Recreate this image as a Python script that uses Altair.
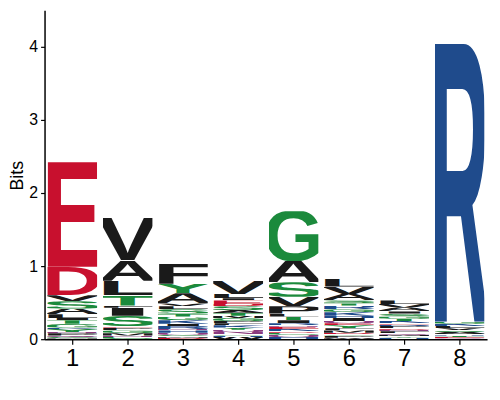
import base64
import pandas as pd
import altair as alt

# letter stacks per position, listed top -> bottom as (letter, height in bits)
pos_1 = [("E", 1.43), ("D", 0.39), ("V", 0.08), ("S", 0.10), ("A", 0.08), ("L", 0.05),
         ("I", 0.03), ("T", 0.05), ("G", 0.05), ("K", 0.02), ("Y", 0.04), ("N", 0.02),
         ("P", 0.03), ("Q", 0.02), ("C", 0.02), ("M", 0.01)]
pos_2 = [("V", 0.58), ("A", 0.28), ("L", 0.20), ("T", 0.14), ("F", 0.03), ("I", 0.11),
         ("S", 0.14), ("E", 0.02), ("P", 0.04), ("G", 0.04), ("M", 0.03), ("N", 0.02),
         ("C", 0.03)]
pos_3 = [("F", 0.27), ("Y", 0.13), ("A", 0.14), ("V", 0.04), ("L", 0.04), ("S", 0.06),
         ("T", 0.04), ("G", 0.05), ("K", 0.05), ("I", 0.03), ("R", 0.04), ("N", 0.02),
         ("H", 0.03), ("Q", 0.03), ("C", 0.02), ("M", 0.02), ("D", 0.02)]
pos_4 = [("V", 0.18), ("L", 0.06), ("I", 0.03), ("E", 0.05), ("D", 0.03), ("S", 0.05),
         ("A", 0.04), ("T", 0.04), ("M", 0.03), ("G", 0.04), ("P", 0.03), ("F", 0.03),
         ("K", 0.03), ("Y", 0.03), ("Q", 0.03), ("N", 0.03), ("C", 0.02), ("H", 0.02),
         ("W", 0.03)]
pos_5 = [("G", 0.68), ("A", 0.29), ("S", 0.20), ("V", 0.13), ("P", 0.10), ("L", 0.04),
         ("T", 0.05), ("I", 0.04), ("R", 0.03), ("N", 0.02), ("E", 0.03), ("K", 0.03),
         ("D", 0.02), ("C", 0.03), ("Q", 0.03), ("H", 0.03)]
pos_6 = [("L", 0.11), ("V", 0.10), ("A", 0.09), ("S", 0.04), ("T", 0.03), ("R", 0.05),
         ("G", 0.04), ("K", 0.05), ("H", 0.03), ("I", 0.04), ("Q", 0.03), ("E", 0.03),
         ("Y", 0.04), ("F", 0.03), ("M", 0.03), ("D", 0.02), ("C", 0.02), ("P", 0.03),
         ("W", 0.02)]
pos_7 = [("L", 0.05), ("V", 0.05), ("A", 0.05), ("I", 0.03), ("S", 0.04), ("G", 0.03),
         ("T", 0.03), ("K", 0.03), ("E", 0.02), ("R", 0.02), ("P", 0.03), ("D", 0.02),
         ("N", 0.02), ("F", 0.03), ("Q", 0.02), ("M", 0.02), ("Y", 0.02), ("H", 0.02)]
pos_8 = [("R", 3.81), ("G", 0.03), ("K", 0.03), ("L", 0.03), ("V", 0.03), ("S", 0.02),
         ("A", 0.03), ("H", 0.02), ("T", 0.02), ("E", 0.02), ("Q", 0.01)]

stacks = [pos_1, pos_2, pos_3, pos_4, pos_5, pos_6, pos_7, pos_8]
positions = [1, 2, 3, 4, 5, 6, 7, 8]

# chemistry colour scheme
colors = {}
for aa in "GSTYC":
    colors[aa] = "#1b8a3c"
for aa in "NQ":
    colors[aa] = "#8a3a7e"
for aa in "KRH":
    colors[aa] = "#1f4b8c"
for aa in "DE":
    colors[aa] = "#c8102e"
for aa in "AVLIPWFM":
    colors[aa] = "#1a1a1a"


def glyph(letter):
    # one stretched letter; viewBox = cap height, bearings cut off the sides
    svg = ('<svg xmlns="http://www.w3.org/2000/svg" viewBox="0 -69 100 69" '
           'preserveAspectRatio="none"><text x="-11" y="0" '
           'font-family="Liberation Sans, Arial, Helvetica, sans-serif" '
           'font-weight="bold" font-size="100" textLength="122" '
           'lengthAdjust="spacingAndGlyphs" fill="%s">%s</text></svg>'
           % (colors[letter], letter))
    return "data:image/svg+xml;base64," + base64.b64encode(svg.encode()).decode()


rows = []
for pos, stack in zip(positions, stacks):
    top = 0.0
    for letter, h in reversed(stack):
        rows.append({"pos": pos, "letter": letter, "x0": pos - 0.45, "x1": pos + 0.45,
                     "y0": top, "y1": top + h, "url": glyph(letter)})
        top += h
df = pd.DataFrame(rows)

chart = alt.Chart(df).mark_image(aspect=False).encode(
    x=alt.X("x0:Q", scale=alt.Scale(domain=[0.5, 8.5], nice=False, zero=False),
            axis=alt.Axis(values=positions, format="d", title=None, grid=False,
                          labelFontSize=24, tickSize=5, labelPadding=3)),
    x2="x1:Q",
    y=alt.Y("y0:Q", scale=alt.Scale(domain=[0, 4.5], nice=False),
            axis=alt.Axis(values=[0, 1, 2, 3, 4], title="Bits", grid=False,
                          labelFontSize=16, tickSize=4, labelPadding=3,
                          titleFontSize=18, titleFontWeight="normal",
                          titleX=-22, titleY=167, titleAngle=270,
                          titleAlign="center", titleBaseline="alphabetic")),
    y2="y1:Q",
    url="url:N",
    tooltip=["pos:Q", "letter:N"],
).properties(
    width=448, height=333,
    autosize=alt.AutoSizeParams(type="none"),
    padding={"left": 37, "top": 0, "right": 5, "bottom": 40},
).configure_axis(
    domainColor="black", tickColor="black", labelColor="black", titleColor="black",
    labelFont="Liberation Sans", titleFont="Liberation Sans", domainWidth=1.5,
    tickWidth=1.2,
).configure_view(stroke=None)

chart.save("out.html", embed_options={"renderer": "svg", "actions": False})
